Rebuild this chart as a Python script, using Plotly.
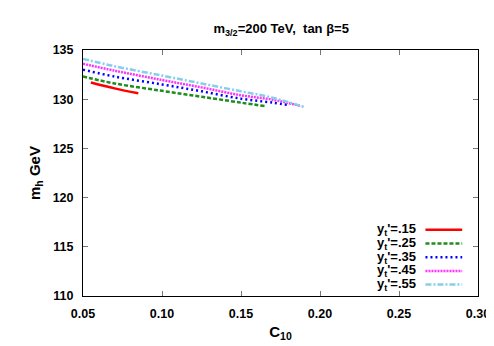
import plotly.graph_objects as go

c10_15 = [0.055, 0.07, 0.085]
mh_15 = [131.7, 131.1, 130.6]

c10_25 = [0.05, 0.07, 0.10, 0.125, 0.15, 0.165]
mh_25 = [132.3, 131.6, 130.85, 130.25, 129.65, 129.3]

c10_35 = [0.05, 0.07, 0.10, 0.125, 0.15, 0.17, 0.18]
mh_35 = [133.0, 132.3, 131.5, 130.8, 130.05, 129.65, 129.4]

c10_45 = [0.05, 0.07, 0.10, 0.125, 0.15, 0.17, 0.188]
mh_45 = [133.6, 132.9, 131.95, 131.2, 130.4, 129.95, 129.3]

c10_55 = [0.05, 0.07, 0.10, 0.125, 0.15, 0.17, 0.19]
mh_55 = [134.1, 133.35, 132.4, 131.6, 130.8, 130.15, 129.2]

labels = [".15", ".25", ".35", ".45", ".55"]
x_ticks = [0.05, 0.10, 0.15, 0.20, 0.25, 0.30]
y_ticks = [110, 115, 120, 125, 130, 135]

series = [
    (c10_15, mh_15, "#ff0000", "solid", 2.5),
    (c10_25, mh_25, "#1e8c1e", "4px,2px", 2.5),
    (c10_35, mh_35, "#0000ff", "2px,3px", 2.5),
    (c10_45, mh_45, "#ff33ff", "2px,1px", 2.5),
    (c10_55, mh_55, "#87ceeb", "6px,2px,2px,2px", 2.5),
]

FONT = "Liberation Sans"

fig = go.Figure()
for (x, y, col, dash, w), lab in zip(series, labels):
    fig.add_trace(go.Scatter(x=x, y=y, mode="lines", name=lab,
                             line=dict(color=col, dash=dash, width=w, shape="spline"),
                             showlegend=False))

# gnuplot-style key: text on the left, line sample on the right
row0, dy = 0.2695, 0.0558
for i, ((x, y, col, dash, w), lab) in enumerate(zip(series, labels)):
    yy = row0 - i * dy
    fig.add_annotation(xref="paper", yref="paper", x=0.847, y=yy, xanchor="right",
                       yanchor="middle", showarrow=False,
                       text=f"y<sub>t</sub>'={lab}",
                       font=dict(family=FONT, size=13, color="black", weight="bold"))
    fig.add_shape(type="line", xref="paper", yref="paper", x0=0.867, x1=0.96,
                  y0=yy, y1=yy, line=dict(color=col, dash=dash, width=w))

fig.update_layout(
    width=494, height=346,
    margin=dict(l=75, r=21, t=42, b=58),
    paper_bgcolor="white", plot_bgcolor="white",
    font=dict(family=FONT, size=12.5, color="black", weight="bold"),
    title=dict(text="m<sub>3/2</sub>=200 TeV,  tan \u03b2=5", x=0.553, xanchor="center",
               y=0.94, yanchor="middle", font=dict(size=13, weight="bold")),
)
fig.update_xaxes(range=[0.05, 0.30], tickvals=x_ticks, ticktext=[f"{v:.2f}" for v in x_ticks],
                 ticks="inside", ticklen=5, tickcolor="#777", ticklabelstandoff=6,
                 showline=True, linecolor="black", linewidth=1, mirror="allticks",
                 showgrid=False, zeroline=False,
                 title=dict(text="C<sub>10</sub>", standoff=6))
fig.update_yaxes(range=[110, 135], tickvals=y_ticks, ticks="inside", ticklen=5, tickcolor="#777",
                 ticklabelstandoff=6, showline=True, linecolor="black", linewidth=1,
                 mirror="allticks", showgrid=False, zeroline=False,
                 title=dict(text="m<sub>h</sub> GeV", standoff=8))

fig.write_html("out.html")
